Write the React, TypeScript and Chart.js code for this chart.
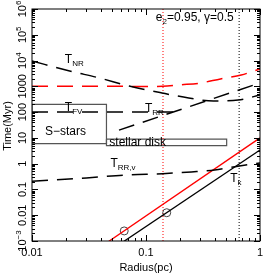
import React, { useEffect, useRef } from 'react';
import { Chart, registerables } from 'chart.js';
Chart.register(...registerables);

const FONT = '"Liberation Sans", Arial, Helvetica, sans-serif';

// ---- axes ----
const X_RANGE = [0.01, 1];
const Y_RANGE = [1e-3, 1e6];
const X_TICKS = [0.01, 0.1, 1];
const X_TICK_LABELS = ['0.01', '0.1', '1'];
const Y_TICKS = [1e6, 1e5, 1e4, 1e3, 100, 10, 1, 0.1, 0.01, 1e-3];
const Y_TICK_BASE = ['10', '10', '10', '1000', '100', '10', '1', '0.1', '0.01', '10'];
const Y_TICK_EXP = ['6', '5', '4', '', '', '', '', '', '', '−3'];
const X_TITLE = 'Radius(pc)';
const Y_TITLE = 'Time(Myr)';

// ---- series (radius in pc, time in Myr) ----
const TNR_R = [0.01, 0.0214, 0.039, 0.0711, 0.138, 0.237, 0.39, 0.644, 1];
const TNR_T = [9600, 3940, 2110, 1030, 552, 353, 270, 295, 460];

const TNR_RED_R = [0.01, 0.05, 0.1, 0.14, 0.2, 0.289, 0.45, 0.684, 1];
const TNR_RED_T = [1000, 1000, 990, 1000, 1150, 1310, 1930, 2750, 4700];

const TRR_FLAT_R = [0.01, 0.18];
const TRR_FLAT_T = [100, 100];
const TRR_RISE_R = [0.058, 1];
const TRR_RISE_T = [20, 1350];

const TRRV_R = [0.01, 0.03, 0.07, 0.14, 0.25, 0.4, 0.64, 1];
const TRRV_T = [0.21, 0.28, 0.37, 0.41, 0.48, 0.57, 0.8, 1.06];

const TK_RED_R = [0.045, 1];
const TK_RED_T = [0.00084, 10];
const TK_BLACK_R = [0.06, 1];
const TK_BLACK_T = [0.0008, 3.4];

const CIRCLE_R = [0.0644, 0.152];
const CIRCLE_T = [0.00246, 0.0125];

const VLINE_RED_R = 0.141;
const VLINE_BLACK_R = 0.656;

const SSTARS_R = [0.01, 0.045];
const SSTARS_T = [6, 200];
const DISK_R = [0.045, 0.51];
const DISK_T = [5, 9];

// ---- annotation labels: [main, sub, r, t] ----
const LABELS: [string, string, number, number][] = [
  ['T', 'NR', 0.0194, 8000],
  ['T', 'FV', 0.0194, 110],
  ['T', 'RR', 0.098, 101],
  ['T', 'RR,v', 0.0487, 0.743],
  ['T', 'k', 0.548, 0.195],
];
const PARAM_TEXT = ['e', '2', '=0.95, γ=0.5'];
const PARAM_POS = [0.122, 342000];
const SSTARS_LABEL = 'S−stars';
const SSTARS_LABEL_POS = [0.013, 13.5];
const DISK_LABEL = 'stellar disk';
const DISK_LABEL_POS = [0.0477, 4.64];

const pts = (rs: number[], ts: number[]) => rs.map((r, i) => ({ x: r, y: ts[i] }));
const boxPts = (rs: number[], ts: number[]) => [
  { x: rs[0], y: ts[1] }, { x: rs[1], y: ts[1] }, { x: rs[1], y: ts[0] }, { x: rs[0], y: ts[0] }, { x: rs[0], y: ts[1] },
];

type Seg = { t: string; size: number; dy: number };
function segWidth(ctx: CanvasRenderingContext2D, segs: Seg[]) {
  let w = 0;
  for (const s of segs) { ctx.font = `${s.size}px ${FONT}`; w += ctx.measureText(s.t).width; }
  return w;
}
function drawSegs(ctx: CanvasRenderingContext2D, segs: Seg[], x: number, y: number) {
  let cx = x;
  for (const s of segs) {
    ctx.font = `${s.size}px ${FONT}`;
    ctx.fillText(s.t, cx, y + s.dy);
    cx += ctx.measureText(s.t).width;
  }
}

const framePlugin = {
  id: 'frameAndText',
  afterDraw(chart: any) {
    const { ctx, chartArea: a, scales } = chart;
    const xs = scales.x, ys = scales.y;
    ctx.save();
    ctx.strokeStyle = '#000';
    ctx.fillStyle = '#000';
    ctx.lineWidth = 1;
    ctx.strokeRect(a.left, a.top, a.right - a.left, a.bottom - a.top);
    const line = (x1: number, y1: number, x2: number, y2: number) => {
      ctx.beginPath(); ctx.moveTo(x1, y1); ctx.lineTo(x2, y2); ctx.stroke();
    };
    // x ticks
    for (let e = -2; e <= 0; e++) {
      for (let m = 1; m < 10; m++) {
        const v = m * Math.pow(10, e);
        if (v > X_RANGE[1] * 1.0001) break;
        const px = Math.round(xs.getPixelForValue(v)) + 0.5;
        const len = m === 1 ? 6 : 3;
        line(px, a.bottom, px, a.bottom - len);
        line(px, a.top, px, a.top + len);
      }
    }
    // y ticks
    for (let e = -3; e <= 6; e++) {
      for (let m = 1; m < 10; m++) {
        const v = m * Math.pow(10, e);
        if (v > Y_RANGE[1] * 1.0001) break;
        const py = Math.round(ys.getPixelForValue(v)) + 0.5;
        const len = m === 1 ? 6 : 3;
        line(a.left, py, a.left + len, py);
        line(a.right, py, a.right - len, py);
      }
    }
    // x tick labels
    ctx.textAlign = 'center';
    ctx.textBaseline = 'alphabetic';
    ctx.font = `11px ${FONT}`;
    X_TICKS.forEach((v, i) => {
      ctx.fillText(X_TICK_LABELS[i], xs.getPixelForValue(v), a.bottom + 15);
    });
    // x title
    ctx.font = `11px ${FONT}`;
    ctx.fillText(X_TITLE, (a.left + a.right) / 2, a.bottom + 30);
    // y tick labels (rotated)
    ctx.textAlign = 'left';
    Y_TICKS.forEach((v, i) => {
      const py = ys.getPixelForValue(v);
      const segs: Seg[] = [{ t: Y_TICK_BASE[i], size: 11, dy: 0 }];
      if (Y_TICK_EXP[i]) segs.push({ t: Y_TICK_EXP[i], size: 8, dy: -5 });
      const w = segWidth(ctx, segs);
      ctx.save();
      ctx.translate(a.left - 6.5, py);
      ctx.rotate(-Math.PI / 2);
      drawSegs(ctx, segs, -w / 2, 0);
      ctx.restore();
    });
    // y title
    ctx.save();
    ctx.translate(10.5, (a.top + a.bottom) / 2 + 1);
    ctx.rotate(-Math.PI / 2);
    ctx.textAlign = 'center';
    ctx.font = `11px ${FONT}`;
    ctx.fillText(Y_TITLE, 0, 0);
    ctx.restore();

    // annotations
    ctx.textAlign = 'left';
    LABELS.forEach(([m, s, r, t]) => {
      const px = xs.getPixelForValue(r), py = ys.getPixelForValue(t);
      drawSegs(ctx, [{ t: m, size: 12, dy: 0 }, { t: s, size: 8, dy: 3 }], px, py);
    });
    drawSegs(ctx, [
      { t: PARAM_TEXT[0], size: 12, dy: 0 },
      { t: PARAM_TEXT[1], size: 8, dy: 3 },
      { t: PARAM_TEXT[2], size: 12, dy: 0 },
    ], xs.getPixelForValue(PARAM_POS[0]), ys.getPixelForValue(PARAM_POS[1]));
    ctx.font = `12px ${FONT}`;
    ctx.fillText(SSTARS_LABEL, xs.getPixelForValue(SSTARS_LABEL_POS[0]), ys.getPixelForValue(SSTARS_LABEL_POS[1]));
    ctx.fillText(DISK_LABEL, xs.getPixelForValue(DISK_LABEL_POS[0]), ys.getPixelForValue(DISK_LABEL_POS[1]));
    ctx.restore();
  },
};

export default function App() {
  const ref = useRef<HTMLCanvasElement>(null);
  useEffect(() => {
    if (!ref.current) return;
    const dash = [16, 9];
    const base = { showLine: true, pointRadius: 0, fill: false, borderJoinStyle: 'round' };
    const chart = new Chart(ref.current, {
      type: 'scatter',
      data: {
        datasets: [
          { ...base, data: pts(TNR_R, TNR_T), borderColor: '#000', borderWidth: 1.5, borderDash: dash, tension: 0.4, cubicInterpolationMode: 'monotone' },
          { ...base, data: pts(TNR_RED_R, TNR_RED_T), borderColor: '#ff0000', borderWidth: 1.5, borderDash: dash, tension: 0.4, cubicInterpolationMode: 'monotone' },
          { ...base, data: pts(TRR_FLAT_R, TRR_FLAT_T), borderColor: '#000', borderWidth: 1.5, borderDash: dash },
          { ...base, data: pts(TRR_RISE_R, TRR_RISE_T), borderColor: '#000', borderWidth: 1.5, borderDash: dash },
          { ...base, data: pts(TRRV_R, TRRV_T), borderColor: '#000', borderWidth: 1.5, borderDash: dash, tension: 0.4, cubicInterpolationMode: 'monotone' },
          { ...base, data: pts(TK_RED_R, TK_RED_T), borderColor: '#ff0000', borderWidth: 1.3 },
          { ...base, data: pts(TK_BLACK_R, TK_BLACK_T), borderColor: '#000', borderWidth: 1.3 },
          { data: pts(CIRCLE_R, CIRCLE_T), showLine: false, pointRadius: 4, pointBorderWidth: 1, pointBorderColor: '#444', pointBackgroundColor: 'rgba(0,0,0,0)', pointStyle: 'circle' },
          { ...base, data: [{ x: VLINE_RED_R, y: Y_RANGE[0] }, { x: VLINE_RED_R, y: Y_RANGE[1] }], borderColor: '#ff0000', borderWidth: 1, borderDash: [1, 2] },
          { ...base, data: [{ x: VLINE_BLACK_R, y: Y_RANGE[0] }, { x: VLINE_BLACK_R, y: Y_RANGE[1] }], borderColor: '#000', borderWidth: 1, borderDash: [1, 2] },
          { ...base, data: boxPts(SSTARS_R, SSTARS_T), borderColor: '#555', borderWidth: 1.2, borderJoinStyle: 'miter' },
          { ...base, data: boxPts(DISK_R, DISK_T), borderColor: '#555', borderWidth: 1.2, borderJoinStyle: 'miter' },
        ] as any,
      },
      options: {
        animation: false,
        responsive: false,
        devicePixelRatio: 1,
        events: [],
        layout: { padding: { left: 32, top: 9, right: 3, bottom: 36 } },
        scales: {
          x: { type: 'logarithmic', min: X_RANGE[0], max: X_RANGE[1], display: false },
          y: { type: 'logarithmic', min: Y_RANGE[0], max: Y_RANGE[1], display: false },
        },
        plugins: { legend: { display: false }, tooltip: { enabled: false } },
      } as any,
      plugins: [framePlugin],
    });
    return () => chart.destroy();
  }, []);
  return (
    <div style={{ position: 'fixed', left: 0, top: 0, width: 265, height: 277, background: '#fff' }}>
      <canvas ref={ref} width={265} height={277} />
    </div>
  );
}
